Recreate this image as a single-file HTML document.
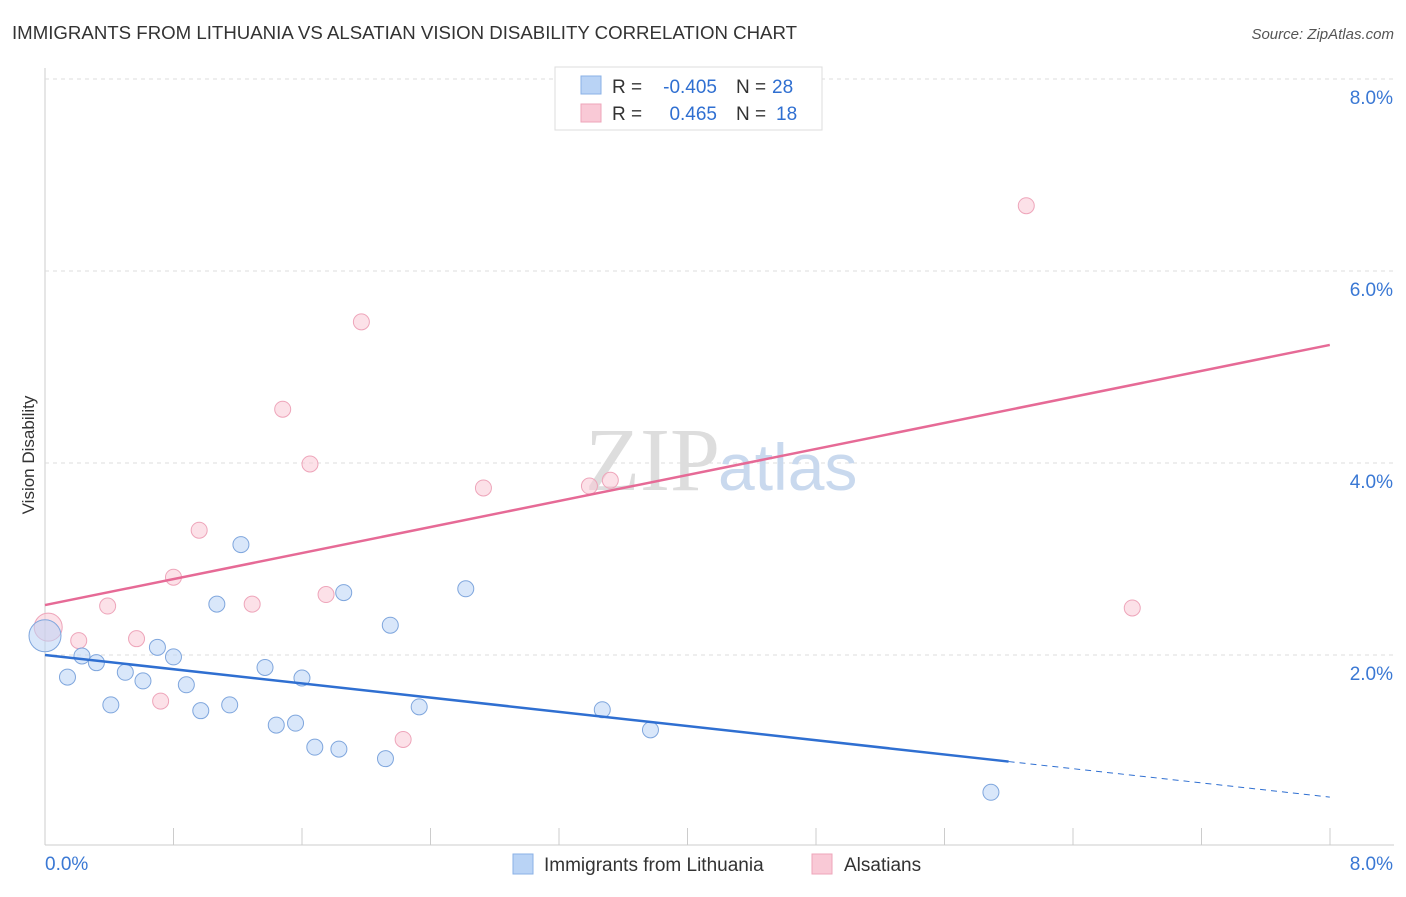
<!DOCTYPE html>
<html><head><meta charset="utf-8"><style>
body{margin:0;background:#fff;font-family:"Liberation Sans",sans-serif;}
</style></head><body>
<svg id="chart" width="1406" height="892" xmlns="http://www.w3.org/2000/svg">
<text x="12" y="39" font-size="18" fill="#333" textLength="785" lengthAdjust="spacingAndGlyphs">IMMIGRANTS FROM LITHUANIA VS ALSATIAN VISION DISABILITY CORRELATION CHART</text>
<text x="1394" y="39" font-size="15" fill="#555" font-style="italic" text-anchor="end">Source: ZipAtlas.com</text>
<g id="grid"></g>
<text x="720" y="490" font-size="90" fill="#ddd" text-anchor="end" font-family="Liberation Serif">ZIP</text>
<text x="718" y="490" font-size="66" fill="#c9d9ee">atlas</text>
<g id="marks"></g>
<text x="34" y="455" font-size="17" fill="#333" text-anchor="middle" transform="rotate(-90 34 455)">Vision Disability</text>
<g font-size="19">
<rect x="555" y="67" width="267" height="63" fill="#fff" stroke="#ddd"/>
<rect x="581" y="76" width="20" height="18" fill="#b9d3f5" stroke="#8ab0e6"/>
<rect x="581" y="104" width="20" height="18" fill="#f9c9d6" stroke="#eea5ba"/>
<text x="612" y="93" fill="#333">R =</text>
<text x="717" y="93" fill="#2f6fd1" text-anchor="end">-0.405</text>
<text x="736" y="93" fill="#333">N =</text>
<text x="772" y="93" fill="#2f6fd1">28</text>
<text x="612" y="120" fill="#333">R =</text>
<text x="717" y="120" fill="#2f6fd1" text-anchor="end">0.465</text>
<text x="736" y="120" fill="#333">N =</text>
<text x="776" y="120" fill="#2f6fd1">18</text>
</g>
<g>
<rect x="513" y="854" width="20" height="20" fill="#b9d3f5" stroke="#8ab0e6"/>
<text x="544" y="871" font-size="19" fill="#333">Immigrants from Lithuania</text>
<rect x="812" y="854" width="20" height="20" fill="#f9c9d6" stroke="#eea5ba"/>
<text x="844" y="871" font-size="19" fill="#333">Alsatians</text>
</g>
</svg>
<script>
const blueX=[0.0,0.14,0.23,0.32,0.41,0.50,0.61,0.70,0.80,0.88,0.97,1.07,1.15,1.22,1.37,1.44,1.56,1.60,1.68,1.83,1.86,2.12,2.15,2.33,2.62,3.47,3.77,5.89];
const blueY=[2.20,1.77,1.99,1.92,1.48,1.82,1.73,2.08,1.98,1.69,1.42,2.53,1.48,3.15,1.87,1.27,1.29,1.76,1.04,1.02,2.65,0.92,2.31,1.46,2.69,1.43,1.22,0.57];
const pinkX=[0.02,0.21,0.39,0.57,0.72,0.80,0.96,1.29,1.48,1.65,1.75,1.97,2.23,2.73,3.39,3.52,6.11,6.77];
const pinkY=[2.29,2.15,2.51,2.17,1.52,2.81,3.30,2.53,4.56,3.99,2.63,5.47,1.12,3.74,3.76,3.82,6.68,2.49];
const blueLine=[0,2.0,6.0,0.89,8.0,0.52];
const pinkLine=[0,2.52,8.0,5.23];
const yTicks=[2,4,6,8];
const xTickLabels=["0.0%","8.0%"];
const X=v=>45+v*160.6, Y=v=>847-v*96;
const NS="http://www.w3.org/2000/svg";
function mk(p,t,a){const e=document.createElementNS(NS,t);for(const k in a)e.setAttribute(k,a[k]);p.appendChild(e);return e;}
const g=document.getElementById('grid'),m=document.getElementById('marks');
mk(g,'line',{x1:45,y1:68,x2:45,y2:845,stroke:'#ccc'});
mk(g,'line',{x1:45,y1:845,x2:1394,y2:845,stroke:'#ccc'});
for(let i=0;i<=10;i++){mk(g,'line',{x1:45+i*128.5,y1:828,x2:45+i*128.5,y2:845,stroke:'#ccc'});}
yTicks.forEach(v=>{
 const l=mk(g,'line',{x1:45,y1:Y(v),x2:1394,y2:Y(v),stroke:'#ddd','stroke-dasharray':'4,4'});
 
 const t=mk(g,'text',{x:1393,y:Y(v)+25,'font-size':19,fill:'#3a78d4','text-anchor':'end'});t.textContent=v.toFixed(1)+'%';
 
});
const t0=mk(g,'text',{x:45,y:870,'font-size':19,fill:'#3a78d4'});t0.textContent=xTickLabels[0];

const t1=mk(g,'text',{x:1393,y:870,'font-size':19,fill:'#3a78d4','text-anchor':'end'});t1.textContent=xTickLabels[1];

pinkX.forEach((x,i)=>{const c=mk(m,'circle',{cx:X(x),cy:Y(pinkY[i]),r:i==0?14:8,fill:'#f9c9d6','fill-opacity':0.55,stroke:'#eea5ba'});
 });
blueX.forEach((x,i)=>{const c=mk(m,'circle',{cx:X(x),cy:Y(blueY[i]),r:i==0?16:8,fill:'#b9d3f5','fill-opacity':0.55,stroke:'#7fa6dd'});
 });
let l=mk(m,'line',{x1:X(blueLine[0]),y1:Y(blueLine[1]),x2:X(blueLine[2]),y2:Y(blueLine[3]),stroke:'#2f6fd1','stroke-width':2.5});

l=mk(m,'line',{x1:X(blueLine[2]),y1:Y(blueLine[3]),x2:X(blueLine[4]),y2:Y(blueLine[5]),stroke:'#2f6fd1','stroke-width':1,'stroke-dasharray':'6,5'});

l=mk(m,'line',{x1:X(pinkLine[0]),y1:Y(pinkLine[1]),x2:X(pinkLine[2]),y2:Y(pinkLine[3]),stroke:'#e66a96','stroke-width':2.5});

</script>
</body></html>
